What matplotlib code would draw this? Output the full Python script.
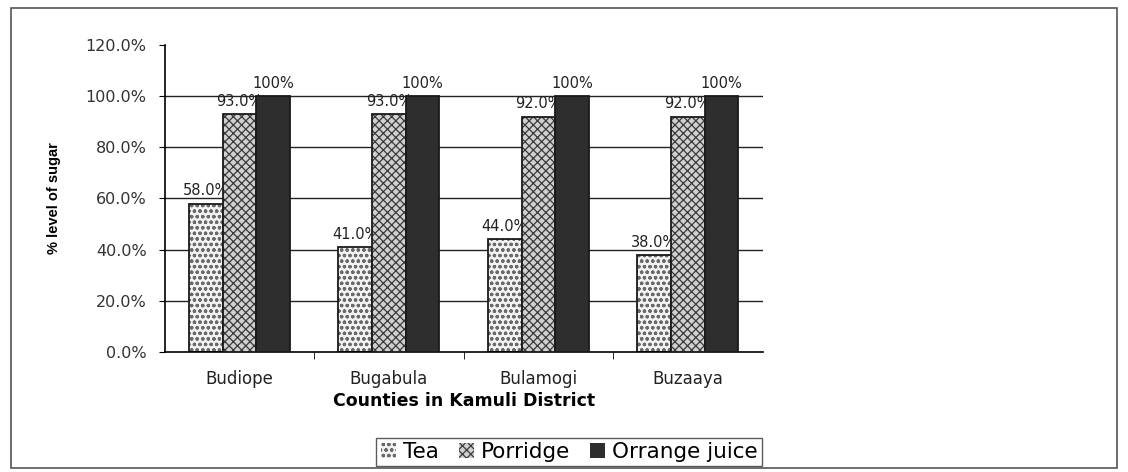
import matplotlib.pyplot as plt
import matplotlib.patches as mpatches
import numpy as np

plt.rcParams['font.family'] = ['DejaVu Sans']
plt.rcParams['hatch.linewidth'] = 0.9

counties = ['Budiope', 'Bugabula', 'Bulamogi', 'Buzaaya']
tea = [58.0, 41.0, 44.0, 38.0]
porridge = [93.0, 93.0, 92.0, 92.0]
orange_juice = [100, 100, 100, 100]

# name, values, face colour, hatch, hatch colour, label format
series = [
    ('Tea', tea, '#f2f2f2', 'ooo', '#6a6a6a', '{:.1f}%'),
    ('Porridge', porridge, '#d0d0d0', 'xxxx', '#3a3a3a', '{:.1f}%'),
    ('Orrange juice', orange_juice, '#2e2e2e', None, '#2e2e2e', '{:.0f}%'),
]


def main():
    fig = plt.figure(figsize=(11.28, 4.72), dpi=100)
    ax = fig.add_axes([0.146, 0.254, 0.53, 0.651])

    x = np.arange(len(counties))
    width = 0.225
    offsets = [-width, 0, width]

    handles = []
    for i, (name, vals, color, hatch, hcolor, fmt) in enumerate(series):
        z = 2 + i
        ax.bar(x + offsets[i], vals, width, color=color, hatch=hatch,
               edgecolor=hcolor, linewidth=0, zorder=z)
        bars = ax.bar(x + offsets[i], vals, width, fill=False,
                      edgecolor='#1a1a1a', linewidth=1.3, zorder=z)
        for b, v in zip(bars, vals):
            ax.text(b.get_x() + b.get_width() / 2, v + 2, fmt.format(v),
                    ha='center', va='bottom', fontsize=10.5, color='#222222',
                    zorder=z)
        handles.append(mpatches.Patch(facecolor=color, hatch=hatch,
                                      edgecolor=hcolor, linewidth=0, label=name))

    ax.set_ylim(0, 120)
    ax.set_xlim(-0.5, len(counties) - 0.5)
    ticks = np.arange(0, 121, 20)
    ax.set_yticks(ticks)
    ax.set_yticklabels([f'{v:.1f}%' for v in ticks], fontsize=11.5, color='#333333')
    for y in range(20, 101, 20):
        ax.axhline(y, color='#222222', linewidth=1.0, zorder=1)

    ax.set_xticks(x)
    ax.set_xticklabels(counties, fontsize=12, color='#222222')
    ax.tick_params(axis='x', length=0, pad=13)
    ax.set_xticks(np.arange(0.5, len(counties) - 0.5), minor=True)
    ax.tick_params(axis='x', which='minor', length=5, direction='out')
    ax.tick_params(axis='y', length=4, pad=9)

    for s in ['top', 'right']:
        ax.spines[s].set_visible(False)
    ax.spines['left'].set_linewidth(1.2)
    ax.spines['bottom'].set_linewidth(1.2)

    ax.set_ylabel('% level of sugar', fontsize=10.5, fontweight='bold', labelpad=18,
                  family='Liberation Sans')
    ax.set_xlabel('Counties in Kamuli District', fontsize=12.5, fontweight='bold',
                  labelpad=3)

    ax.legend(handles=handles, loc='center', bbox_to_anchor=(0.677, -0.325), ncol=3,
              fontsize=15.5, frameon=True, fancybox=False, edgecolor='#333333',
              handlelength=0.7, handleheight=0.7, handletextpad=0.35,
              columnspacing=0.9, borderpad=0.2, borderaxespad=0)

    fig.patches.append(mpatches.Rectangle((0.01, 0.008), 0.98, 0.975, fill=False,
                                          edgecolor='#555555', linewidth=1.2,
                                          transform=fig.transFigure))

    fig.savefig('out.png', dpi=100)


if __name__ == '__main__':
    main()
